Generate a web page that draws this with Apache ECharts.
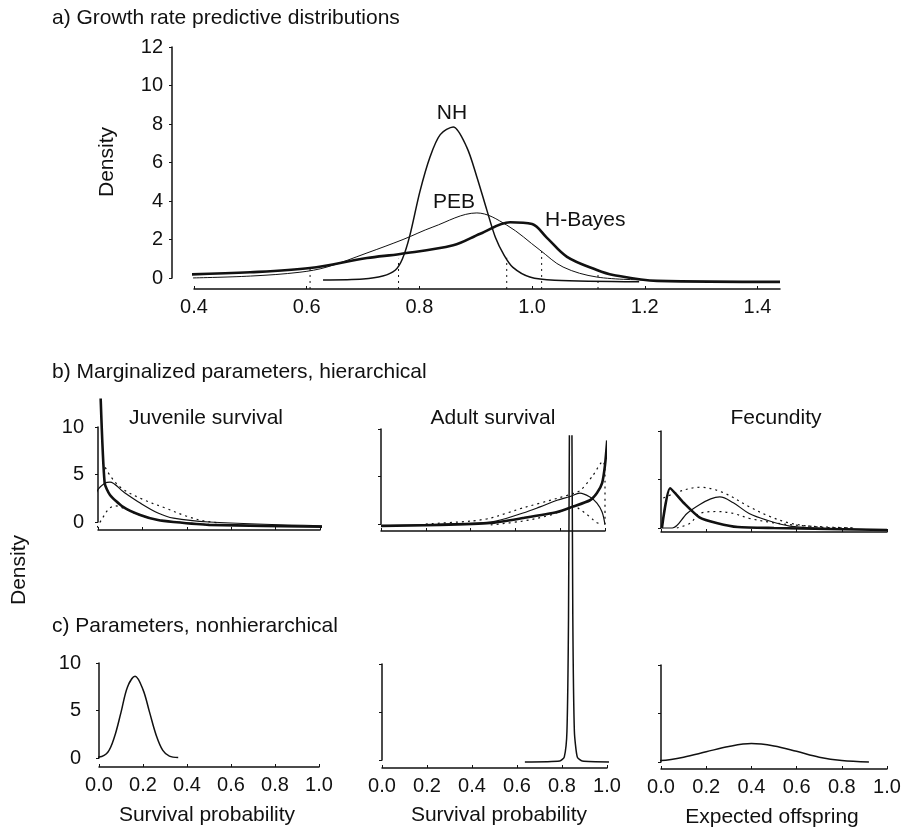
<!DOCTYPE html>
<html>
<head>
<meta charset="utf-8">
<script src="https://cdn.jsdelivr.net/npm/echarts@6/dist/echarts.min.js"></script>
<style>
html, body { margin: 0; padding: 0; background: #fff; }
#chart { width: 906px; height: 830px; }
</style>
</head>
<body>
<div id="chart"></div>
<script>
// a) growth rate predictive densities, points are [lambda, density]
const growthNH = [[0.629,-0.1],[0.7,-0.05],[0.735,0.1],[0.757,0.4],[0.77,1.0],[0.783,2.2],[0.801,4.5],[0.819,6.3],[0.837,7.45],[0.86,7.85],[0.884,6.8],[0.902,5.25],[0.92,3.5],[0.935,2.1],[0.95,1.2],[0.966,0.55],[0.996,0.05],[1.04,-0.12],[1.19,-0.2]];
const growthPEB = [[0.393,0],[0.5,0.1],[0.588,0.3],[0.636,0.57],[0.707,1.3],[0.771,2.0],[0.824,2.65],[0.902,3.38],[0.955,2.75],[1.014,1.45],[1.055,0.57],[1.115,0.05],[1.2,-0.1]];
const growthHBayes = [[0.361,0.16],[0.5,0.3],[0.606,0.52],[0.707,1.04],[0.766,1.25],[0.86,1.7],[0.908,2.3],[0.961,2.9],[1.0,2.8],[1.026,2.1],[1.062,1.1],[1.115,0.42],[1.144,0.16],[1.222,-0.15],[1.44,-0.2]];
// dotted interval limits: [lambda, height where the marker meets a curve]
const growthIntervals = [[0.606,0.52],[0.763,1.0],[0.955,1.05],[1.017,1.45],[1.117,0.42]];
const growthAxisFloor = -0.57;

// b) marginalized parameters (hierarchical): thick, thin and two dotted curves
const juvThick = [[0.012,13.0],[0.03,4.1],[0.054,2.85],[0.113,1.6],[0.19,0.74],[0.27,0.2],[0.34,0],[0.5,-0.3],[1.01,-0.5]];
const juvThin = [[-0.027,0.5],[-0.005,3.2],[0.032,4.1],[0.054,4.2],[0.113,3.2],[0.19,2.0],[0.27,0.95],[0.34,0.4],[0.5,0],[1.01,-0.4]];
const juvUpper = [[0.02,6.3],[0.06,4.7],[0.11,3.5],[0.2,2.4],[0.3,1.5],[0.4,0.6],[0.48,0.1],[0.55,-0.1]];
const juvLower = [[-0.005,-0.6],[0.02,0.4],[0.05,1.4],[0.08,1.7],[0.12,1.4],[0.18,0.8],[0.25,0.3],[0.35,0],[0.5,-0.3]];

const adultThick = [[0,-0.2],[0.26,-0.1],[0.487,0.1],[0.634,0.63],[0.786,1.26],[0.853,1.8],[0.933,2.5],[0.964,3.26],[0.987,4.3],[1.0,6.2],[1.01,8.8]];
const adultThin = [[0,-0.2],[0.26,0],[0.487,0.2],[0.634,1.16],[0.71,1.8],[0.786,2.5],[0.844,2.9],[0.888,3.26],[0.933,2.84],[0.964,2.2],[0.987,1.26],[1.0,-0.1]];
const adultUpper = [[0.2,0],[0.4,0.3],[0.487,0.6],[0.634,1.7],[0.786,2.7],[0.888,3.5],[0.946,5.1],[0.99,6.6],[1.0,6.0],[1.0,0]];
const adultLower = [[0.49,-0.1],[0.63,0.3],[0.75,0.9],[0.83,1.6],[0.86,1.9],[0.89,1.5],[0.93,0.8],[0.96,0.2],[0.98,0]];

const fecThick = [[0.004,0],[0.04,4.1],[0.1,2.6],[0.17,1.1],[0.25,0.5],[0.34,0.1],[0.5,0],[1.0,-0.2]];
const fecThin = [[0.004,0],[0.05,0],[0.115,1.5],[0.17,2.4],[0.22,3.0],[0.26,3.2],[0.32,2.6],[0.39,1.5],[0.47,0.8],[0.57,0.2],[0.7,0],[1.0,-0.2]];
const fecUpper = [[0.01,3.1],[0.1,3.9],[0.17,4.2],[0.27,3.7],[0.39,2.2],[0.47,1.3],[0.57,0.5],[0.7,0.1],[0.85,0]];
const fecLower = [[0.07,0],[0.13,0.5],[0.17,1.5],[0.25,1.7],[0.32,1.5],[0.39,1.0],[0.51,0.5],[0.65,0.2],[0.85,0]];

// c) nonhierarchical parameters
const juvNonHier = [[-0.045,0.05],[0.0,0.1],[0.04,0.6],[0.07,2.2],[0.1,4.8],[0.13,7.5],[0.164,8.6],[0.2,7.2],[0.23,4.8],[0.26,2.4],[0.29,0.8],[0.32,0.2],[0.36,0.05]];
const adultNonHier = [[0.635,-0.2],[0.79,-0.1],[0.81,0.3],[0.822,3],[0.829,15],[0.834,40],[0.838,48],[0.843,40],[0.848,15],[0.855,3],[0.868,0.3],[0.89,-0.1],[1.03,-0.2]];
const fecNonHier = [[-0.13,0.05],[0.0,0.15],[0.1,0.5],[0.2,1.05],[0.3,1.6],[0.4,1.9],[0.5,1.65],[0.6,1.1],[0.7,0.5],[0.8,0.15],[0.92,0.0]];

const FONT = '"Liberation Sans", Arial, Helvetica, sans-serif';
const INK = '#111';

// panel placement: grid box in px, offsets move the axis lines away from the data box
const panels = [
  { left: 194, top: 47, width: 586, height: 231, yOff: 22, xOff: 11, xMin: 0.4, xMax: 1.44, xInt: 0.2, yMax: 12, yInt: 2, xLabels: true, yLabels: true, maxLabel: false },
  { left: 98, top: 427, width: 222, height: 95, yOff: 5, xOff: 8, xMin: 0, xMax: 1, xInt: 0.2, yMax: 10, yInt: 5, xLabels: false, yLabels: true },
  { left: 381, top: 429, width: 224, height: 95, yOff: 9, xOff: 7, xMin: 0, xMax: 1, xInt: 0.2, yMax: 10, yInt: 5, xLabels: false, yLabels: false },
  { left: 661, top: 431, width: 226, height: 97, yOff: 9, xOff: 4, xMin: 0, xMax: 1, xInt: 0.2, yMax: 10, yInt: 5, xLabels: false, yLabels: false },
  { left: 99, top: 663, width: 220, height: 95, yOff: 9, xOff: 9, xMin: 0, xMax: 1, xInt: 0.2, yMax: 10, yInt: 5, xLabels: true, yLabels: true },
  { left: 382, top: 664, width: 225, height: 96, yOff: 11, xOff: 8, xMin: 0, xMax: 1, xInt: 0.2, yMax: 10, yInt: 5, xLabels: true, yLabels: false },
  { left: 661, top: 665, width: 226, height: 97, yOff: 12, xOff: 7, xMin: 0, xMax: 1, xInt: 0.2, yMax: 10, yInt: 5, xLabels: true, yLabels: false }
];

const grid = [], xAxis = [], yAxis = [];
panels.forEach((p, i) => {
  grid.push({ left: p.left, top: p.top, width: p.width, height: p.height, containLabel: false, outerBoundsMode: 'none' });
  xAxis.push({
    type: 'value', gridIndex: i, min: p.xMin, max: p.xMax, interval: p.xInt, offset: p.xOff,
    axisLine: { show: true, onZero: false, lineStyle: { color: INK, width: 1.5 } },
    axisTick: { show: true, inside: true, length: 3, lineStyle: { color: INK } },
    axisLabel: { show: p.xLabels, color: INK, fontFamily: FONT, fontSize: 20, margin: 8,
      showMaxLabel: p.maxLabel !== false, formatter: v => v.toFixed(1) },
    splitLine: { show: false }
  });
  yAxis.push({
    type: 'value', gridIndex: i, min: 0, max: p.yMax, interval: p.yInt, offset: p.yOff,
    axisLine: { show: true, lineStyle: { color: INK, width: 1.5 } },
    axisTick: { show: true, length: 3, lineStyle: { color: INK } },
    axisLabel: { show: p.yLabels, color: INK, fontFamily: FONT, fontSize: 20, margin: 9 },
    splitLine: { show: false }
  });
});

function curve(data, i, width, dotted, smooth) {
  return {
    type: 'line', xAxisIndex: i, yAxisIndex: i, data: data, showSymbol: false, clip: false,
    smooth: smooth === undefined ? 0.35 : smooth, silent: true,
    lineStyle: { color: INK, width: width, type: dotted ? [2, 4] : 'solid' }
  };
}

const series = [
  curve(growthHBayes, 0, 2.6),
  curve(growthPEB, 0, 1),
  curve(growthNH, 0, 1.5, false, 0.3),
  ...growthIntervals.map(([x, top]) => curve([[x, growthAxisFloor], [x, top]], 0, 1, true, false)),
  curve(juvUpper, 1, 1.2, true), curve(juvLower, 1, 1.2, true),
  curve(juvThin, 1, 1.2), curve(juvThick, 1, 2.6, false, 0.2),
  curve(adultUpper, 2, 1.2, true, 0.2), curve(adultLower, 2, 1.2, true),
  curve(adultThin, 2, 1.2), curve(adultThick, 2, 2.6, false, 0.2),
  curve(fecUpper, 3, 1.2, true), curve(fecLower, 3, 1.2, true),
  curve(fecThin, 3, 1.2), curve(fecThick, 3, 2.6, false, 0.2),
  curve(juvNonHier, 4, 1.5),
  curve(adultNonHier, 5, 1.5, false, 0.2),
  curve(fecNonHier, 6, 1.5)
];

function label(text, x, y, size, align, rotate) {
  return {
    type: 'text', x: x, y: y, rotation: rotate ? Math.PI / 2 : 0, silent: true,
    style: { text: text, x: 0, y: 0, font: size + 'px ' + FONT, fill: INK,
      textAlign: align, align: align, textVerticalAlign: 'middle', verticalAlign: 'middle' }
  };
}

const graphic = [
  label('a) Growth rate predictive distributions', 52, 18, 21, 'left'),
  label('Density', 107, 162, 21, 'center', true),
  label('NH', 452, 113, 21, 'center'),
  label('PEB', 454, 202, 21, 'center'),
  label('H-Bayes', 545, 220, 21, 'left'),
  label('b) Marginalized parameters, hierarchical', 52, 372, 21, 'left'),
  label('Juvenile survival', 206, 418, 21, 'center'),
  label('Adult survival', 493, 418, 21, 'center'),
  label('Fecundity', 776, 418, 21, 'center'),
  label('Density', 19, 570, 21, 'center', true),
  label('c) Parameters, nonhierarchical', 52, 626, 21, 'left'),
  label('Survival probability', 207, 815, 21, 'center'),
  label('Survival probability', 499, 815, 21, 'center'),
  label('Expected offspring', 772, 817, 21, 'center')
];

const chart = echarts.init(document.getElementById('chart'), null, { renderer: 'canvas' });
chart.setOption({
  animation: false,
  backgroundColor: '#fff',
  grid: grid,
  xAxis: xAxis,
  yAxis: yAxis,
  series: series,
  graphic: graphic
});
</script>
</body>
</html>
